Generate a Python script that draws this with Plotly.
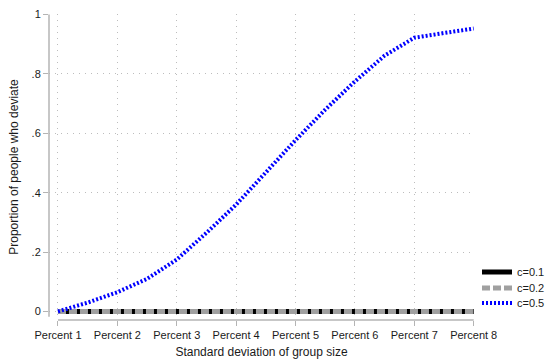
import plotly.graph_objects as go

# ---- data ----
tick_positions = [1, 2, 3, 4, 5, 6, 7, 8]
tick_labels = ["Percent 1", "Percent 2", "Percent 3", "Percent 4",
               "Percent 5", "Percent 6", "Percent 7", "Percent 8"]

x_c01 = [1, 2, 3, 4, 5, 6, 7, 8]
y_c01 = [0, 0, 0, 0, 0, 0, 0, 0]

x_c02 = [1, 2, 3, 4, 5, 6, 7, 8]
y_c02 = [0, 0, 0, 0, 0, 0, 0, 0]

x_c05 = [1, 1.5, 2, 2.5, 3, 3.5, 4, 4.5, 5, 5.5, 6, 6.5, 7, 7.5, 8]
y_c05 = [0.0, 0.03, 0.065, 0.11, 0.175, 0.265, 0.36, 0.47, 0.577,
         0.68, 0.775, 0.862, 0.922, 0.938, 0.953]

y_tick_vals = [0, 0.2, 0.4, 0.6, 0.8, 1]
y_tick_text = ["0", ".2", ".4", ".6", ".8", "1"]

FONT = "Liberation Sans, Arial, sans-serif"
AXIS_GRAY = "#b4b4b4"
GRID_GRAY = "#bdbdbd"

fig = go.Figure()
fig.add_trace(go.Scatter(x=x_c01, y=y_c01, mode="lines", name="c=0.1",
                         legend="legend",
                         line=dict(color="black", width=5)))
fig.add_trace(go.Scatter(x=x_c02, y=y_c02, mode="lines", name="c=0.2",
                         legend="legend2",
                         line=dict(color="#a0a0a0", width=5, dash="8px,3px")))
fig.add_trace(go.Scatter(x=x_c05, y=y_c05, mode="lines", name="c=0.5",
                         legend="legend3",
                         line=dict(color="#0000ff", width=4, dash="2px,2px")))

leg_common = dict(xref="container", yref="container",
                  x=477 / 546, xanchor="left", yanchor="middle",
                  font=dict(size=11, family=FONT, color="#1a1a1a"),
                  bgcolor="rgba(0,0,0,0)")

fig.update_layout(
    width=546, height=361,
    margin=dict(l=49, r=72, t=14, b=41, autoexpand=False),
    paper_bgcolor="white", plot_bgcolor="white",
    font=dict(family=FONT, size=11, color="#1a1a1a"),
    showlegend=True,
    legend=dict(y=1 - 272 / 361, **leg_common),
    legend2=dict(y=1 - 288 / 361, **leg_common),
    legend3=dict(y=1 - 303 / 361, **leg_common),
    xaxis=dict(
        range=[0.849, 8.005],
        tickvals=tick_positions, ticktext=tick_labels,
        showline=False, zeroline=False,
        ticks="outside", ticklen=5, tickcolor=AXIS_GRAY,
        showgrid=True, gridcolor=GRID_GRAY, gridwidth=1, griddash="1px,5px",
        tickfont=dict(size=11),
        title=dict(text="Standard deviation of group size",
                   font=dict(size=12), standoff=7),
    ),
    yaxis=dict(
        range=[-0.0286, 1.002],
        tickvals=y_tick_vals, ticktext=y_tick_text,
        showline=False, zeroline=False,
        ticks="outside", ticklen=5, tickcolor=AXIS_GRAY,
        showgrid=True, gridcolor=GRID_GRAY, gridwidth=1, griddash="1px,5px",
        tickfont=dict(size=11),
        title=dict(text="Proportion of people who deviate",
                   font=dict(size=12), standoff=10),
    ),
    shapes=[
        dict(type="line", xref="x", yref="paper", x0=1, x1=8, y0=0, y1=0,
             line=dict(color=AXIS_GRAY, width=1.5)),
        dict(type="line", xref="paper", yref="y", x0=0, x1=0, y0=-0.018, y1=1,
             line=dict(color=AXIS_GRAY, width=1.5)),
    ],
)

fig.write_html("out.html",
               config={"displayModeBar": False},
               post_script="document.body.style.margin='0';")
